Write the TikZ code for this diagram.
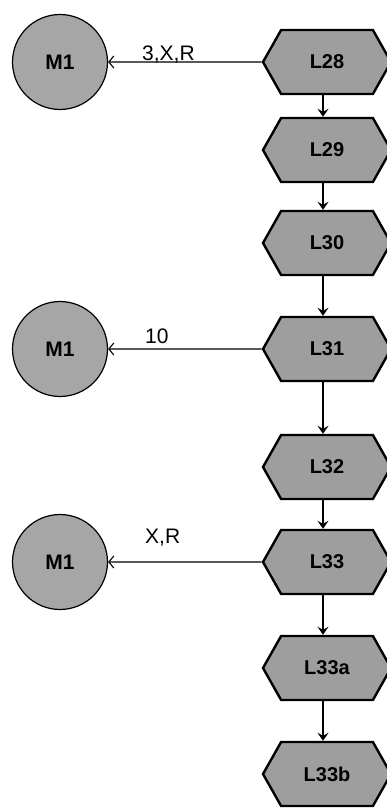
\documentclass[tikz,border=0pt]{standalone}
\usepackage{fontspec}
\newfontfamily\arialfont{Liberation Sans}
\usetikzlibrary{shapes,arrows.meta}

\begin{document}
\begin{tikzpicture}[x=1pt,y=1pt]
    \tikzstyle{lnode}=[signal, signal to=west and east, signal pointer angle=121,
      draw, line width=2.4pt, fill=black!38, minimum width=128pt, minimum height=64pt,
      inner sep=0pt, font=\arialfont\bfseries\fontsize{20}{24}\selectfont]
    \tikzstyle{mnode}=[circle, draw, line width=1.2pt, fill=black!35, minimum size=95pt,
      inner sep=0pt, font=\arialfont\bfseries\fontsize{21}{25}\selectfont]
    \tikzstyle{flow}=[-{Stealth[length=8pt,width=11pt,inset=3pt]}, line width=1.3pt]
    \tikzstyle{call}=[-{Straight Barb[length=5pt,width=12pt]}, line width=1.1pt]
    \tikzstyle{lbl}=[anchor=west, inner sep=0pt, font=\arialfont\fontsize{21}{25}\selectfont]
    \useasboundingbox (0,0) rectangle (387,-810);
    \clip (0,0) rectangle (387,-810);
    \node[lnode] (l28) at (327,-62) {L28};
    \node[lnode] (l29) at (327,-150) {L29};
    \node[lnode] (l30) at (327,-243) {L30};
    \node[lnode] (l31) at (327,-349) {L31};
    \node[lnode] (l32) at (327,-467) {L32};
    \node[lnode] (l33) at (327,-562) {L33};
    \node[lnode] (l33a) at (327,-668) {L33a};
    \node[lnode] (l33b) at (327,-774) {L33b};
    \node[mnode] (m1a) at (60,-62) {M1};
    \node[mnode] (m1b) at (60,-349) {M1};
    \node[mnode] (m1c) at (60,-562) {M1};
    % calls to M1
    \draw[call] (l28) -- (m1a);
    \draw[call] (l31) -- (m1b);
    \draw[call] (l33) -- (m1c);
    \node[lbl] (t28) at (142,-55) {3,X,R};
    \node[lbl] (t31) at (145,-336) {10};
    \node[lbl] (t33) at (145,-538) {X,R};
    % main sequence
    \foreach \a/\b in {l28/l29,l29/l30,l30/l31,l31/l32,l32/l33,l33/l33a,l33a/l33b}
      \draw[flow] ([xshift=-4pt]\a.south) -- ([xshift=-4pt]\b.north);
  \end{tikzpicture}
\end{document}
